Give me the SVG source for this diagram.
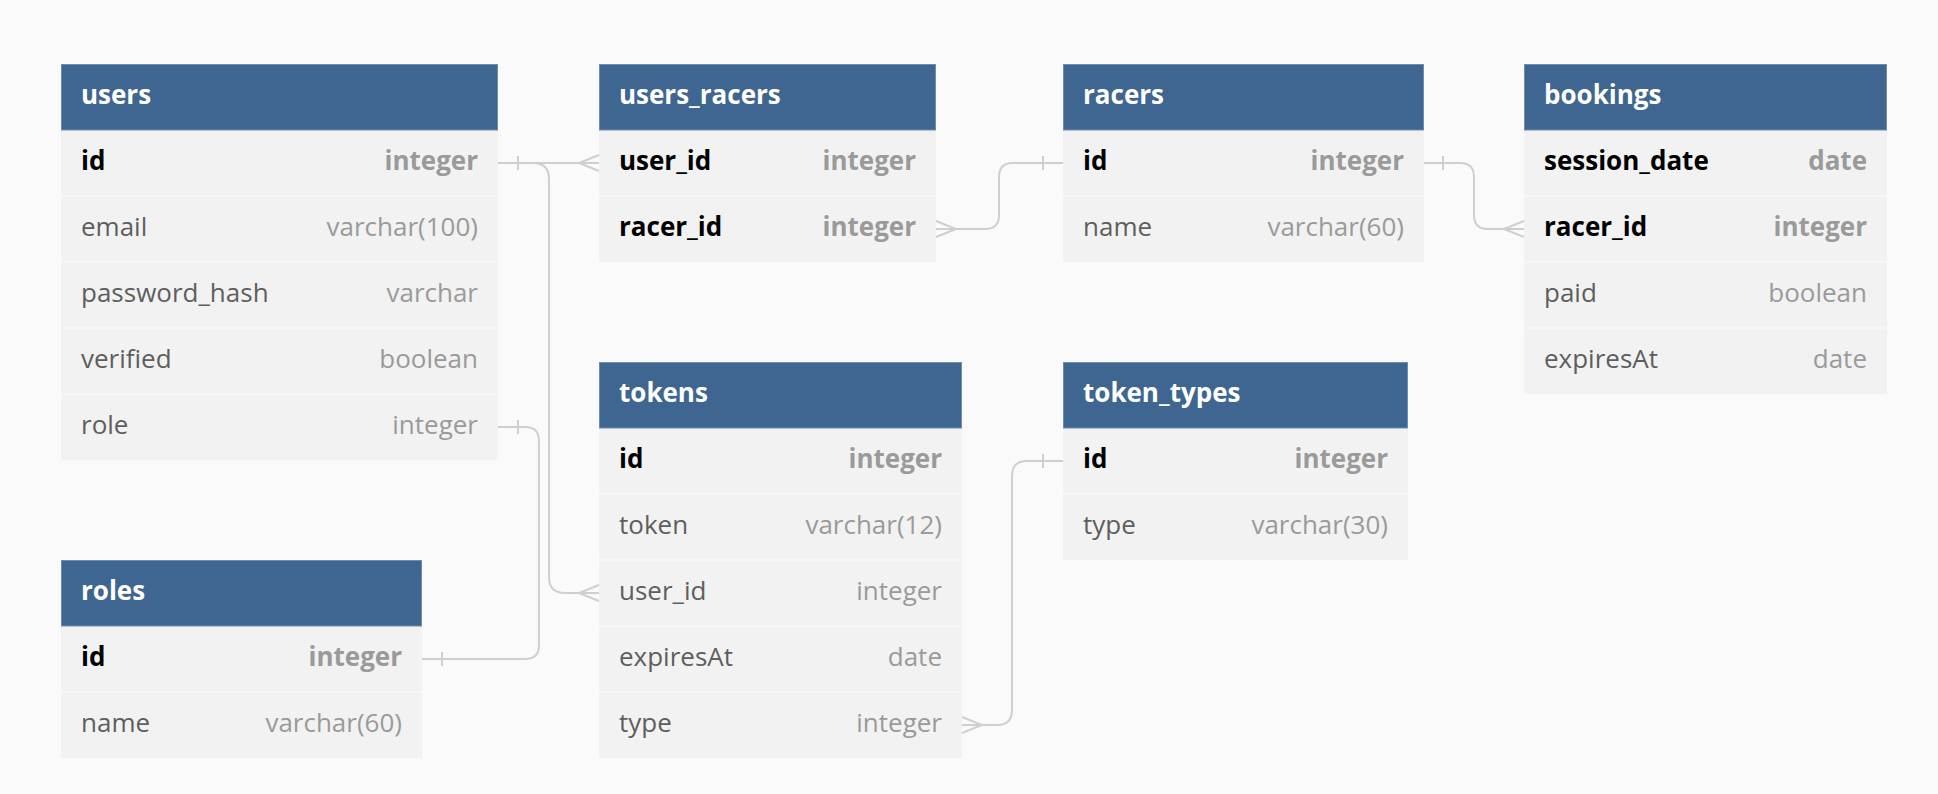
<svg xmlns="http://www.w3.org/2000/svg" width="1938" height="794" viewBox="0 0 1938 794">
<style>
.bg{fill:#fafafa}
.hdr{fill:#3e6690;stroke:#6e8db2;stroke-width:1}
.row{fill:#f2f2f2}
.sep{stroke:#f7f7f7;stroke-width:1.5}
text{font-family:"Open Sans","Noto Sans","DejaVu Sans",sans-serif;font-size:26px}
.title{fill:#ffffff;font-weight:700}
.fk{fill:#000000;font-weight:700}
.fn{fill:#5e5e5e}
.tk{fill:#9a9a9a;font-weight:700;text-anchor:end}
.tn{fill:#9a9a9a;text-anchor:end}
.conn path{fill:none;stroke:#cfcfcf;stroke-width:2}
</style>
<rect class="bg" x="0" y="0" width="1938" height="794"/>

<g id="connectors" class="conn">
  <!-- users.id - users_racers.user_id -->
  <path d="M498,163 H599"/>
  <path d="M518,156 V170"/>
  <path d="M599,155 L579,163 L599,171"/>
  <!-- users.id - tokens.user_id -->
  <path d="M498,163 H533 Q549,163 549,179 V577 Q549,593 565,593 H599"/>
  <path d="M599,585 L579,593 L599,601"/>
  <!-- users.role - roles.id -->
  <path d="M498,427 H525 Q539,427 539,441 V645 Q539,659 525,659 H422"/>
  <path d="M518,420 V434"/>
  <path d="M442,652 V666"/>
  <!-- users_racers.racer_id - racers.id -->
  <path d="M936,229 H985 Q999,229 999,215 V177 Q999,163 1013,163 H1063"/>
  <path d="M936,221 L956,229 L936,237"/>
  <path d="M1043,156 V170"/>
  <!-- racers.id - bookings.racer_id -->
  <path d="M1424,163 H1460 Q1474,163 1474,177 V215 Q1474,229 1488,229 H1524"/>
  <path d="M1443,156 V170"/>
  <path d="M1524,221 L1504,229 L1524,237"/>
  <!-- tokens.type - token_types.id -->
  <path d="M962,725 H997 Q1012,725 1012,710 V476 Q1012,461 1027,461 H1063"/>
  <path d="M962,717 L982,725 L962,733"/>
  <path d="M1043,454 V468"/>
</g>

<g id="users">
  <rect class="row" x="61" y="130" width="437" height="330"/>
  <line class="sep" x1="61" y1="196" x2="498" y2="196"/>
  <line class="sep" x1="61" y1="262" x2="498" y2="262"/>
  <line class="sep" x1="61" y1="328" x2="498" y2="328"/>
  <line class="sep" x1="61" y1="394" x2="498" y2="394"/>
  <rect class="hdr" x="61.5" y="64.5" width="436" height="65.5"/>
  <text class="title" x="81" y="104">users</text>
  <text class="fk" x="81" y="170">id</text><text class="tk" x="478" y="170">integer</text>
  <text class="fn" x="81" y="236">email</text><text class="tn" x="478" y="236">varchar(100)</text>
  <text class="fn" x="81" y="302">password_hash</text><text class="tn" x="478" y="302">varchar</text>
  <text class="fn" x="81" y="368">verified</text><text class="tn" x="478" y="368">boolean</text>
  <text class="fn" x="81" y="434">role</text><text class="tn" x="478" y="434">integer</text>
</g>

<g id="users_racers">
  <rect class="row" x="599" y="130" width="337" height="132"/>
  <line class="sep" x1="599" y1="196" x2="936" y2="196"/>
  <rect class="hdr" x="599.5" y="64.5" width="336" height="65.5"/>
  <text class="title" x="619" y="104">users_racers</text>
  <text class="fk" x="619" y="170">user_id</text><text class="tk" x="916" y="170">integer</text>
  <text class="fk" x="619" y="236">racer_id</text><text class="tk" x="916" y="236">integer</text>
</g>

<g id="racers">
  <rect class="row" x="1063" y="130" width="361" height="132"/>
  <line class="sep" x1="1063" y1="196" x2="1424" y2="196"/>
  <rect class="hdr" x="1063.5" y="64.5" width="360" height="65.5"/>
  <text class="title" x="1083" y="104">racers</text>
  <text class="fk" x="1083" y="170">id</text><text class="tk" x="1404" y="170">integer</text>
  <text class="fn" x="1083" y="236">name</text><text class="tn" x="1404" y="236">varchar(60)</text>
</g>

<g id="bookings">
  <rect class="row" x="1524" y="130" width="363" height="264"/>
  <line class="sep" x1="1524" y1="196" x2="1887" y2="196"/>
  <line class="sep" x1="1524" y1="262" x2="1887" y2="262"/>
  <line class="sep" x1="1524" y1="328" x2="1887" y2="328"/>
  <rect class="hdr" x="1524.5" y="64.5" width="362" height="65.5"/>
  <text class="title" x="1544" y="104">bookings</text>
  <text class="fk" x="1544" y="170">session_date</text><text class="tk" x="1867" y="170">date</text>
  <text class="fk" x="1544" y="236">racer_id</text><text class="tk" x="1867" y="236">integer</text>
  <text class="fn" x="1544" y="302">paid</text><text class="tn" x="1867" y="302">boolean</text>
  <text class="fn" x="1544" y="368">expiresAt</text><text class="tn" x="1867" y="368">date</text>
</g>

<g id="tokens">
  <rect class="row" x="599" y="428" width="363" height="330"/>
  <line class="sep" x1="599" y1="494" x2="962" y2="494"/>
  <line class="sep" x1="599" y1="560" x2="962" y2="560"/>
  <line class="sep" x1="599" y1="626" x2="962" y2="626"/>
  <line class="sep" x1="599" y1="692" x2="962" y2="692"/>
  <rect class="hdr" x="599.5" y="362.5" width="362" height="65.5"/>
  <text class="title" x="619" y="402">tokens</text>
  <text class="fk" x="619" y="468">id</text><text class="tk" x="942" y="468">integer</text>
  <text class="fn" x="619" y="534">token</text><text class="tn" x="942" y="534">varchar(12)</text>
  <text class="fn" x="619" y="600">user_id</text><text class="tn" x="942" y="600">integer</text>
  <text class="fn" x="619" y="666">expiresAt</text><text class="tn" x="942" y="666">date</text>
  <text class="fn" x="619" y="732">type</text><text class="tn" x="942" y="732">integer</text>
</g>

<g id="token_types">
  <rect class="row" x="1063" y="428" width="345" height="132"/>
  <line class="sep" x1="1063" y1="494" x2="1408" y2="494"/>
  <rect class="hdr" x="1063.5" y="362.5" width="344" height="65.5"/>
  <text class="title" x="1083" y="402">token_types</text>
  <text class="fk" x="1083" y="468">id</text><text class="tk" x="1388" y="468">integer</text>
  <text class="fn" x="1083" y="534">type</text><text class="tn" x="1388" y="534">varchar(30)</text>
</g>

<g id="roles">
  <rect class="row" x="61" y="626" width="361" height="132"/>
  <line class="sep" x1="61" y1="692" x2="422" y2="692"/>
  <rect class="hdr" x="61.5" y="560.5" width="360" height="65.5"/>
  <text class="title" x="81" y="600">roles</text>
  <text class="fk" x="81" y="666">id</text><text class="tk" x="402" y="666">integer</text>
  <text class="fn" x="81" y="732">name</text><text class="tn" x="402" y="732">varchar(60)</text>
</g>
</svg>
